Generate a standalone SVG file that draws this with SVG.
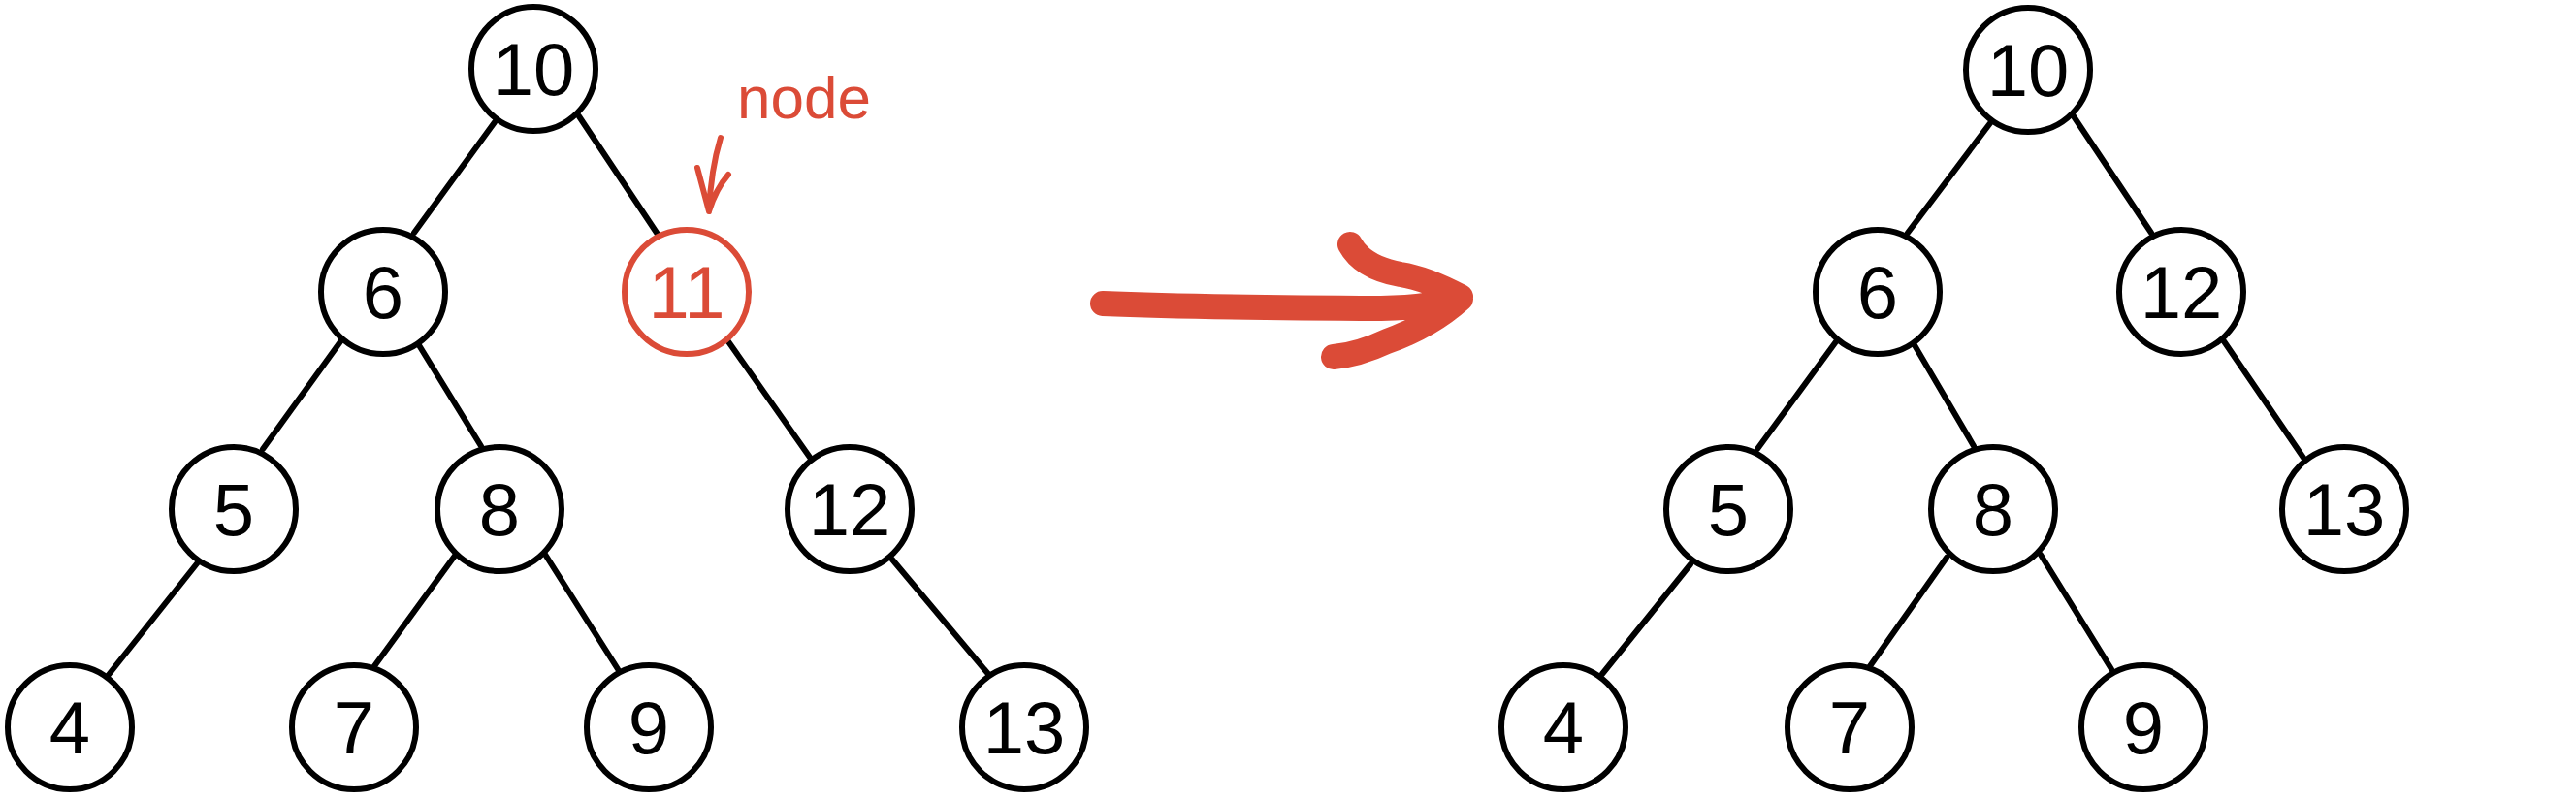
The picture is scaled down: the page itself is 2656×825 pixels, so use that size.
<svg xmlns="http://www.w3.org/2000/svg" width="2656" height="825" viewBox="0 0 2656 825">
<style>
.n circle{fill:#fff;stroke:#000;stroke-width:6}
.n text{font-family:"Liberation Sans",Arial,sans-serif;font-size:76px;fill:#000;text-anchor:middle}
.n.red circle{stroke:#db4b37}
.n.red text{fill:#db4b37}
.e line{stroke:#000;stroke-width:6;stroke-linecap:round}
.ann{fill:none;stroke:#db4b37;stroke-linecap:round;stroke-linejoin:round}
</style>
<rect width="2656" height="825" fill="#fff"/>
<g id="connectors" class="e">
<line x1="510" y1="126" x2="427" y2="240"/>
<line x1="597" y1="120" x2="679" y2="243"/>
<line x1="352" y1="351" x2="271" y2="463"/>
<line x1="432" y1="356" x2="496" y2="460"/>
<line x1="748" y1="348" x2="836" y2="473"/>
<line x1="204" y1="580" x2="111" y2="697"/>
<line x1="469" y1="573" x2="386" y2="687"/>
<line x1="561" y1="570" x2="637" y2="690"/>
<line x1="920" y1="577" x2="1019" y2="695"/>
<line x1="2052" y1="127" x2="1967" y2="240"/>
<line x1="2138" y1="120" x2="2218" y2="240"/>
<line x1="1894" y1="351" x2="1812" y2="463"/>
<line x1="1974" y1="356" x2="2035" y2="460"/>
<line x1="2293" y1="352" x2="2375" y2="472"/>
<line x1="1743" y1="582" x2="1652" y2="695"/>
<line x1="2007" y1="575" x2="1928" y2="687"/>
<line x1="2104" y1="572" x2="2177" y2="690"/>
</g>
<g id="L10" class="n"><circle cx="550" cy="71" r="64"/><text x="550" y="98">10</text></g>
<g id="L6" class="n"><circle cx="395" cy="301" r="64"/><text x="395" y="328">6</text></g>
<g id="L11" class="n red"><circle cx="708" cy="301" r="64"/><text x="708" y="328">11</text></g>
<g id="L5" class="n"><circle cx="241" cy="525" r="64"/><text x="241" y="552">5</text></g>
<g id="L8" class="n"><circle cx="515" cy="525" r="64"/><text x="515" y="552">8</text></g>
<g id="L12" class="n"><circle cx="876" cy="525" r="64"/><text x="876" y="552">12</text></g>
<g id="L4" class="n"><circle cx="72" cy="750" r="64"/><text x="72" y="777">4</text></g>
<g id="L7" class="n"><circle cx="365" cy="750" r="64"/><text x="365" y="777">7</text></g>
<g id="L9" class="n"><circle cx="669" cy="750" r="64"/><text x="669" y="777">9</text></g>
<g id="L13" class="n"><circle cx="1056" cy="750" r="64"/><text x="1056" y="777">13</text></g>
<g id="R10" class="n"><circle cx="2091" cy="72" r="64"/><text x="2091" y="99">10</text></g>
<g id="R6" class="n"><circle cx="1936" cy="301" r="64"/><text x="1936" y="328">6</text></g>
<g id="R12" class="n"><circle cx="2249" cy="301" r="64"/><text x="2249" y="328">12</text></g>
<g id="R5" class="n"><circle cx="1782" cy="525" r="64"/><text x="1782" y="552">5</text></g>
<g id="R8" class="n"><circle cx="2055" cy="525" r="64"/><text x="2055" y="552">8</text></g>
<g id="R13" class="n"><circle cx="2417" cy="525" r="64"/><text x="2417" y="552">13</text></g>
<g id="R4" class="n"><circle cx="1612" cy="750" r="64"/><text x="1612" y="777">4</text></g>
<g id="R7" class="n"><circle cx="1907" cy="750" r="64"/><text x="1907" y="777">7</text></g>
<g id="R9" class="n"><circle cx="2210" cy="750" r="64"/><text x="2210" y="777">9</text></g>
<g id="note">
<text x="760" y="122" font-family="'Liberation Sans',Arial,sans-serif" font-size="62" fill="#db4b37">node</text>
<path class="ann" stroke-width="6" d="M743,142 Q733,175 731,218 M719,173 L731,218 Q738,195 751,180"/>
</g>
<g id="big-arrow">
<path class="ann" stroke-width="26" d="M1137,313 Q1233,317 1424,318 Q1480,317 1506,306 M1392,252 Q1405,276 1444,283 Q1470,287 1506,306 M1375,368 Q1400,366 1430,352 Q1475,336 1506,308"/>
</g>
</svg>
